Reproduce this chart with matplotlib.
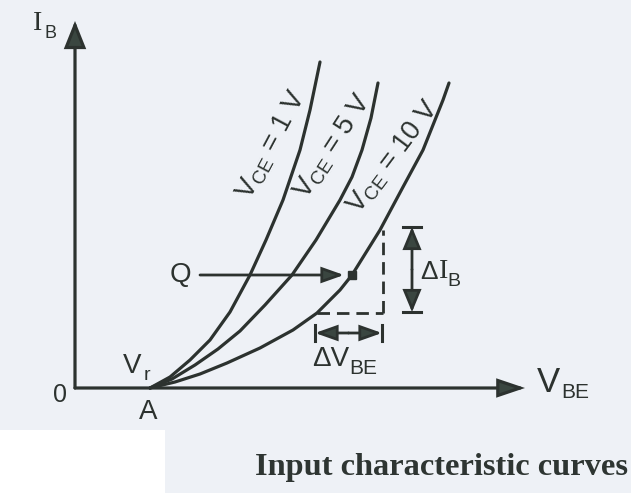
import matplotlib
matplotlib.use("Agg")
import matplotlib.pyplot as plt
from matplotlib.patches import Rectangle

# ---- data (diagram units: origin at the axes corner, y upward) ----
curve_labels = ["1 V", "5 V", "10 V"]
vbe_1v = [75, 95, 115, 135, 155, 175, 191, 208, 225, 235, 245]
ib_1v = [0, 11, 28, 48, 76, 113, 148, 188, 238, 278, 326]
vbe_5v = [75, 97, 120, 143, 165, 190, 217, 241, 265, 277, 287, 296, 303]
ib_5v = [0, 9, 23, 39, 57, 83, 113, 148, 188, 211, 238, 270, 305]
vbe_10v = [75, 100, 125, 152, 185, 218, 242, 265, 277, 305, 328, 348, 368, 374]
ib_10v = [0, 6, 14, 25, 40, 58, 75, 98, 113, 158, 201, 238, 288, 305]

x_axis_end = 450
y_axis_end = 367
cut_in = 75            # point A (V_r)
q_point = (277, 113)
q_arrow_start = 125
dv_range = (242, 308)  # dashed horizontal / delta V_BE
di_range = (75, 158)   # dashed vertical / delta I_B
dv_arrow = (240, 307, 55)
di_arrow = (337, 161, 76)

ink = "#2c322f"
head = "#3a4640"
bg = "#eef1f6"

plt.rcParams["font.family"] = ["Liberation Sans", "DejaVu Sans"]
plt.rcParams["mathtext.fontset"] = "custom"
plt.rcParams["mathtext.rm"] = "Liberation Sans"
plt.rcParams["mathtext.it"] = "Liberation Sans"

fig = plt.figure(figsize=(6.31, 4.93), dpi=100)
fig.patch.set_facecolor(bg)
ax = fig.add_axes([0, 0, 1, 1])
ax.set_xlim(-75, 556)
ax.set_ylim(-105, 388)
ax.axis("off")
ax.set_facecolor(bg)

# white patch bottom-left (scan artefact)
ax.add_patch(Rectangle((-75, -105), 165, 63, facecolor="white", edgecolor="none", zorder=0))

def arrow(x0, y0, x1, y1, hl, hw, lw=2.3, style="-|>"):
    ax.annotate("", xy=(x1, y1), xytext=(x0, y0),
                arrowprops=dict(arrowstyle=f"{style},head_length={hl},head_width={hw}",
                                mutation_scale=20, lw=lw, color=ink, fc=head,
                                shrinkA=0, shrinkB=0, joinstyle="miter"))

# axes
arrow(0, 0, 0, y_axis_end, 0.8, 0.32)
arrow(0, 0, x_axis_end, 0, 0.8, 0.27)

# curves
for xs, ys in [(vbe_1v, ib_1v), (vbe_5v, ib_5v), (vbe_10v, ib_10v)]:
    ax.plot(xs, ys, color=ink, lw=2.3, solid_capstyle="round", solid_joinstyle="round")

# curve labels
lab_pos = [(197, 243, 62), (258, 241, 57), (318, 231, 53)]
for (x, y, r), t in zip(lab_pos, curve_labels):
    ax.text(x, y, r"$\mathrm{V_{CE}}$ = " + t, rotation=r, rotation_mode="anchor",
            ha="center", va="center", fontsize=19.5, color=ink)

# Q arrow and point
arrow(q_arrow_start, q_point[1], q_point[0] - 8, q_point[1], 0.65, 0.23, lw=2.0)
ax.plot([q_point[0]], [q_point[1]], marker="s", ms=6, color=ink)
ax.text(105, q_point[1], "Q", ha="center", va="center", fontsize=20, color=ink)

# dashed construction lines
ax.plot([dv_range[0], dv_range[1]], [di_range[0], di_range[0]], color=ink, lw=2, ls=(0, (4.5, 2.5)))
ax.plot([dv_range[1], dv_range[1]], [di_range[0], di_range[1]], color=ink, lw=2, ls=(0, (4.5, 2.5)))

# delta I_B arrow
x, y0, y1 = di_arrow
arrow(x, (y0 + y1) / 2, x, y0, 0.65, 0.27, lw=2.0)
arrow(x, (y0 + y1) / 2, x, y1, 0.65, 0.27, lw=2.0)
for yy in (y0, y1):
    ax.plot([x - 9, x + 9], [yy, yy], color=ink, lw=2.2)
ax.text(345, 116, "Δ", ha="left", va="center", fontsize=19, color=ink)
ax.text(364, 116, "I", ha="left", va="center", fontsize=20, color=ink, family="Liberation Serif")
ax.text(372, 107, "B", ha="left", va="center", fontsize=14, color=ink)

# delta V_BE arrow
x0, x1, y = dv_arrow
arrow((x0 + x1) / 2, y, x0, y, 0.65, 0.23, lw=2.0)
arrow((x0 + x1) / 2, y, x1, y, 0.65, 0.23, lw=2.0)
for xx in (x0, x1):
    ax.plot([xx, xx], [y - 8, y + 8], color=ink, lw=2.2)
ax.text(237, 29, "ΔV", ha="left", va="center", fontsize=20, color=ink)
ax.text(274, 20, "BE", ha="left", va="center", fontsize=15, color=ink)

# axis labels
ax.text(-42, 365, "I", ha="left", va="center", fontsize=20, color=ink, family="Liberation Serif")
ax.text(-30, 354, "B", ha="left", va="center", fontsize=13, color=ink)
ax.text(462, 6, "V", ha="left", va="center", fontsize=25, color=ink)
ax.text(486, -5, "BE", ha="left", va="center", fontsize=15, color=ink)
ax.text(-15, -7, "0", ha="center", va="center", fontsize=18, color=ink)
ax.text(cut_in - 2, -24, "A", ha="center", va="center", fontsize=20, color=ink)
ax.text(48, 22, "V", ha="left", va="center", fontsize=20, color=ink)
ax.text(69, 12, "r", ha="left", va="center", fontsize=14, color=ink)

# caption
ax.text(180, -79, "Input characteristic curves", ha="left", va="center",
        fontsize=23.3, fontweight="bold", color="#2e3532", family="Liberation Serif")

fig.savefig("out.png", dpi=100, facecolor=bg)
